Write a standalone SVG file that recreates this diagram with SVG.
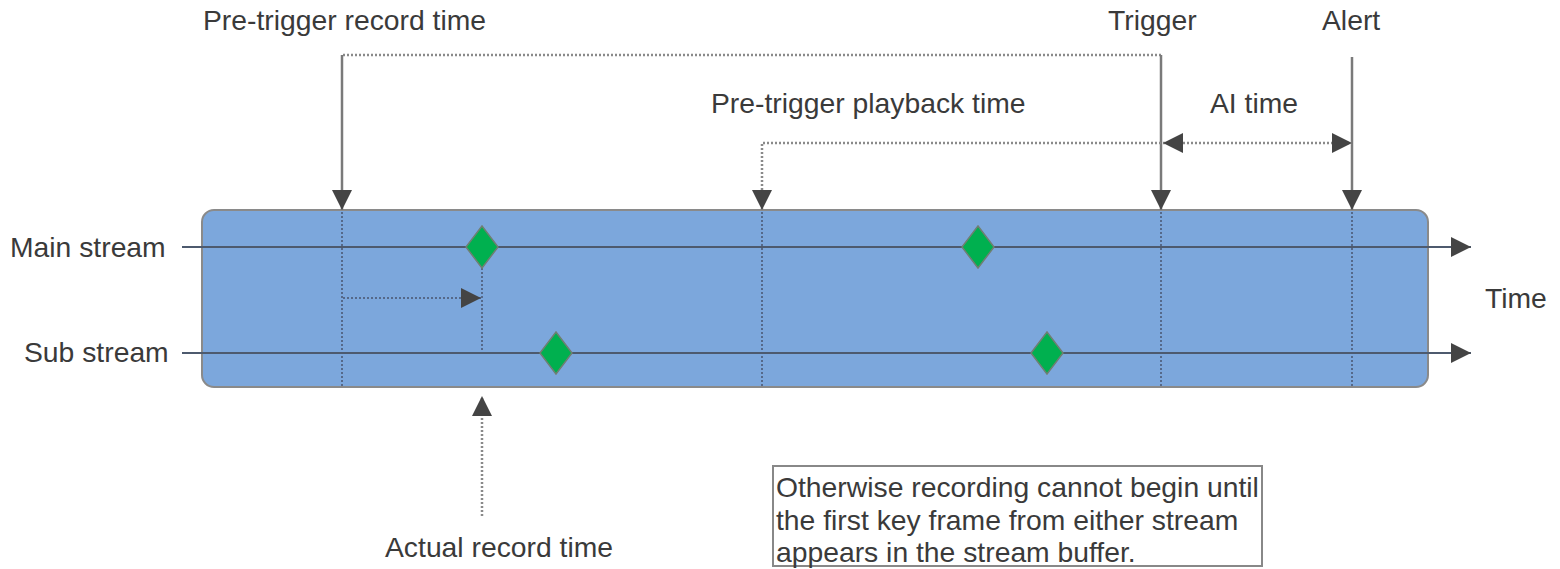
<svg xmlns="http://www.w3.org/2000/svg" width="1560" height="569" viewBox="0 0 1560 569">
<style>
text{font-family:"Liberation Sans",Arial,sans-serif;font-size:28.3px;fill:#3a3a3a}
.solid{stroke:#7a7a7a;stroke-width:2.5;fill:none}
.dot{stroke:#8a8a8a;stroke-width:2.5;stroke-dasharray:2 2;fill:none}
.inner{stroke:#55698a;stroke-width:2;stroke-dasharray:2 2;fill:none}
.stream{stroke:#4d5a6e;stroke-width:2;fill:none}
.key{fill:#00b04f;stroke:#6f7f72;stroke-width:1.5}
</style>
<defs>
<marker id="ah" viewBox="0 0 10 10" refX="10" refY="5" markerWidth="20" markerHeight="20" markerUnits="userSpaceOnUse" orient="auto-start-reverse">
<path d="M0,0 L10,5 L0,10 z" fill="#444"/>
</marker>
</defs>
<g id="buffer">
<rect x="202" y="210" width="1226" height="177" rx="12" ry="12" fill="#7ca7dc" stroke="#8a8a8a" stroke-width="2"/>
</g>
<g id="connectors">
<line class="inner" x1="342" y1="212" x2="342" y2="386"/>
<line class="inner" x1="762" y1="212" x2="762" y2="386"/>
<line class="inner" x1="1161" y1="212" x2="1161" y2="386"/>
<line class="inner" x1="1352" y1="212" x2="1352" y2="386"/>
<line class="inner" x1="482" y1="268" x2="482" y2="353"/>
<line class="inner" x1="343" y1="298" x2="481" y2="298" marker-end="url(#ah)"/>
<line class="stream" x1="182" y1="247" x2="1471" y2="247" marker-end="url(#ah)"/>
<line class="stream" x1="182" y1="353" x2="1471" y2="353" marker-end="url(#ah)"/>
<path class="dot" d="M1161,55 H342"/>
<line class="solid" x1="342" y1="55" x2="342" y2="210" marker-end="url(#ah)"/>
<line class="solid" x1="1161" y1="55" x2="1161" y2="210" marker-end="url(#ah)"/>
<line class="solid" x1="1352" y1="57" x2="1352" y2="210" marker-end="url(#ah)"/>
<path class="dot" d="M1161,143 H762 V210" marker-end="url(#ah)"/>
<line class="dot" x1="1163" y1="143" x2="1352" y2="143" marker-start="url(#ah)" marker-end="url(#ah)"/>
<line class="dot" x1="482" y1="516" x2="482" y2="396" marker-end="url(#ah)"/>
</g>
<g id="keyframes">
<polygon class="key" points="482,226 498,247 482,268 466,247"/>
<polygon class="key" points="978,226 994,247 978,268 962,247"/>
<polygon class="key" points="556,332 572,353 556,374 540,353"/>
<polygon class="key" points="1047,332 1063,353 1047,374 1031,353"/>
</g>
<g id="labels">
<text x="203" y="30">Pre-trigger record time</text>
<text x="1108" y="30">Trigger</text>
<text x="1322" y="30">Alert</text>
<text x="711" y="113">Pre-trigger playback time</text>
<text x="1210" y="113">AI time</text>
<text x="10" y="257">Main stream</text>
<text x="24" y="362">Sub stream</text>
<text x="1485" y="308">Time</text>
<text x="385" y="557">Actual record time</text>
</g>
<g id="note">
<rect x="773" y="466" width="489" height="100" fill="#fff" stroke="#888" stroke-width="2"/>
<text x="776" y="497">Otherwise recording cannot begin until</text>
<text x="776" y="530">the first key frame from either stream</text>
<text x="776" y="562">appears in the stream buffer.</text>
</g>
</svg>
